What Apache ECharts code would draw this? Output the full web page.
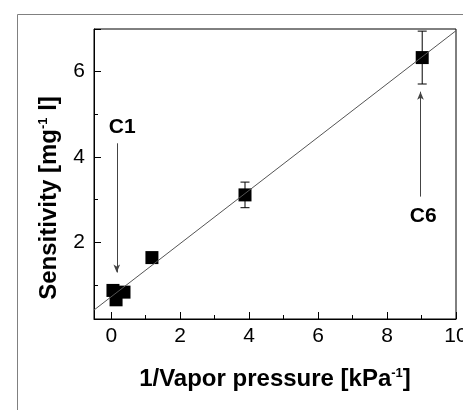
<!DOCTYPE html>
<html>
<head>
<meta charset="utf-8">
<script src="https://cdn.jsdelivr.net/npm/echarts@6/dist/echarts.min.js"></script>
<style>
  html, body { margin: 0; padding: 0; background: #fff; }
  #chart { width: 463px; height: 410px; }
</style>
</head>
<body>
<div id="chart"></div>
<script>
// measured points (1/vapor pressure vs sensitivity)
const xVals = [0.05, 0.37, 0.14, 1.18, 3.88, 9.02]
const yVals = [0.87, 0.83, 0.65, 1.64, 3.11, 6.33]
const yErr = [0.04, 0.04, 0.04, 0.08, 0.30, 0.62]

// linear fit, read at both ends of the x range
const fitX = [-0.5, 10]
const fitY = [0.41, 6.96]

// annotation arrows: [x, yFrom, yTo]
const arrowC1 = [0.16, 4.32, 1.29]
const arrowC6 = [8.97, 3.07, 5.53]
const labelNames = ['C1', 'C6']
const labelX = [0.32, 9.05]
const labelY = [4.70, 2.61]

const xRange = [-0.5, 10]
const yRange = [0.2, 7]

const font = 'Liberation Sans, Arial, Helvetica, sans-serif'

const chart = echarts.init(document.getElementById('chart'), null, { renderer: 'canvas' })

const points = xVals.map((x, i) => [x, yVals[i], yErr[i]])

function evenLabel(v) {
  return Math.abs(v % 2) < 1e-9 ? String(v) : ''
}

chart.setOption({
  animation: false,
  backgroundColor: '#fff',
  textStyle: { fontFamily: font },
  graphic: [{
    type: 'rect',
    shape: { x: 17.5, y: 14.5, width: 600, height: 600 },
    style: { fill: 'none', stroke: '#808080', lineWidth: 1 },
    silent: true
  }],
  grid: {
    left: 94,
    right: 7,
    top: 29,
    bottom: 91,
    outerBoundsMode: 'none',
    containLabel: false,
    show: true,
    borderColor: '#000',
    borderWidth: 1
  },
  xAxis: [{
    type: 'value',
    position: 'bottom',
    min: xRange[0],
    max: xRange[1],
    minInterval: 2,
    maxInterval: 2,
    splitLine: { show: false },
    axisLine: { show: true, onZero: false, lineStyle: { color: '#000', width: 1 } },
    axisTick: { show: true, inside: true, length: 7, lineStyle: { color: '#000' } },
    axisLabel: {
      color: '#000', fontSize: 21, fontFamily: font, margin: 7,
      showMinLabel: true, showMaxLabel: true, hideOverlap: false,
      formatter: evenLabel
    },
    name: '{b|1/Vapor pressure [kPa}{s|-1}{b|]}',
    nameLocation: 'middle',
    nameGap: 48,
    nameTextStyle: {
      rich: {
        b: { fontSize: 24, fontWeight: 'bold', fontFamily: font, color: '#000' },
        s: { fontSize: 13, fontWeight: 'bold', fontFamily: font, color: '#000', verticalAlign: 'top' }
      }
    }
  }, {
    // minor ticks at odd values
    type: 'value',
    position: 'bottom',
    min: xRange[0],
    max: xRange[1],
    minInterval: 1,
    maxInterval: 1,
    splitLine: { show: false },
    axisLine: { show: false, onZero: false },
    axisTick: { show: true, inside: true, length: 4, lineStyle: { color: '#000' } },
    axisLabel: { show: false }
  }],
  yAxis: [{
    type: 'value',
    position: 'left',
    min: yRange[0],
    max: yRange[1],
    minInterval: 2,
    maxInterval: 2,
    splitLine: { show: false },
    axisLine: { show: true, onZero: false, lineStyle: { color: '#000', width: 1 } },
    axisTick: { show: true, inside: true, length: 7, lineStyle: { color: '#000' } },
    axisLabel: {
      color: '#000', fontSize: 21, fontFamily: font, margin: 9,
      formatter: evenLabel
    },
    name: '{b|Sensitivity [mg}{s|-1}{b| l]}',
    nameLocation: 'middle',
    nameRotate: 90,
    nameGap: 33,
    nameTextStyle: {
      padding: [0, 48, 0, 0],
      rich: {
        b: { fontSize: 24, fontWeight: 'bold', fontFamily: font, color: '#000' },
        s: { fontSize: 13, fontWeight: 'bold', fontFamily: font, color: '#000', verticalAlign: 'top' }
      }
    }
  }, {
    type: 'value',
    position: 'left',
    min: yRange[0],
    max: yRange[1],
    minInterval: 1,
    maxInterval: 1,
    splitLine: { show: false },
    axisLine: { show: false, onZero: false },
    axisTick: { show: true, inside: true, length: 4, lineStyle: { color: '#000' } },
    axisLabel: { show: false }
  }],
  series: [
    {
      name: 'fit',
      type: 'line',
      data: fitX.map((x, i) => [x, fitY[i]]),
      showSymbol: false,
      symbol: 'none',
      lineStyle: { color: '#555', width: 1 },
      z: 4,
      markLine: {
        silent: true,
        symbol: ['none', 'arrow'],
        symbolSize: [5, 8],
        label: { show: false },
        lineStyle: { color: '#444', width: 1, type: 'solid' },
        data: [
          [{ coord: [arrowC1[0], arrowC1[1]] }, { coord: [arrowC1[0], arrowC1[2]] }],
          [{ coord: [arrowC6[0], arrowC6[1]] }, { coord: [arrowC6[0], arrowC6[2]] }]
        ]
      }
    },
    {
      name: 'error',
      type: 'custom',
      data: points,
      z: 3,
      renderItem(params, api) {
        const x = api.value(0)
        const y = api.value(1)
        const e = api.value(2)
        const top = api.coord([x, y + e])
        const bot = api.coord([x, y - e])
        const style = { stroke: '#000', lineWidth: 1 }
        return {
          type: 'group',
          children: [
            { type: 'line', shape: { x1: top[0], y1: top[1], x2: bot[0], y2: bot[1] }, style },
            { type: 'line', shape: { x1: top[0] - 4.5, y1: top[1], x2: top[0] + 4.5, y2: top[1] }, style },
            { type: 'line', shape: { x1: bot[0] - 4.5, y1: bot[1], x2: bot[0] + 4.5, y2: bot[1] }, style }
          ]
        }
      }
    },
    {
      name: 'data',
      type: 'scatter',
      data: points,
      symbol: 'rect',
      symbolSize: 13,
      itemStyle: { color: '#000', opacity: 1 },
      z: 3
    },
    {
      name: 'labels',
      type: 'scatter',
      data: labelX.map((x, i) => ({ value: [x, labelY[i]], name: labelNames[i] })),
      symbolSize: 0,
      itemStyle: { color: 'transparent', opacity: 1 },
      label: {
        show: true,
        position: 'inside',
        formatter: '{b}',
        color: '#000',
        opacity: 1,
        fontSize: 21,
        fontWeight: 'bold',
        fontFamily: font
      },
      z: 5
    }
  ]
})
</script>
</body>
</html>
